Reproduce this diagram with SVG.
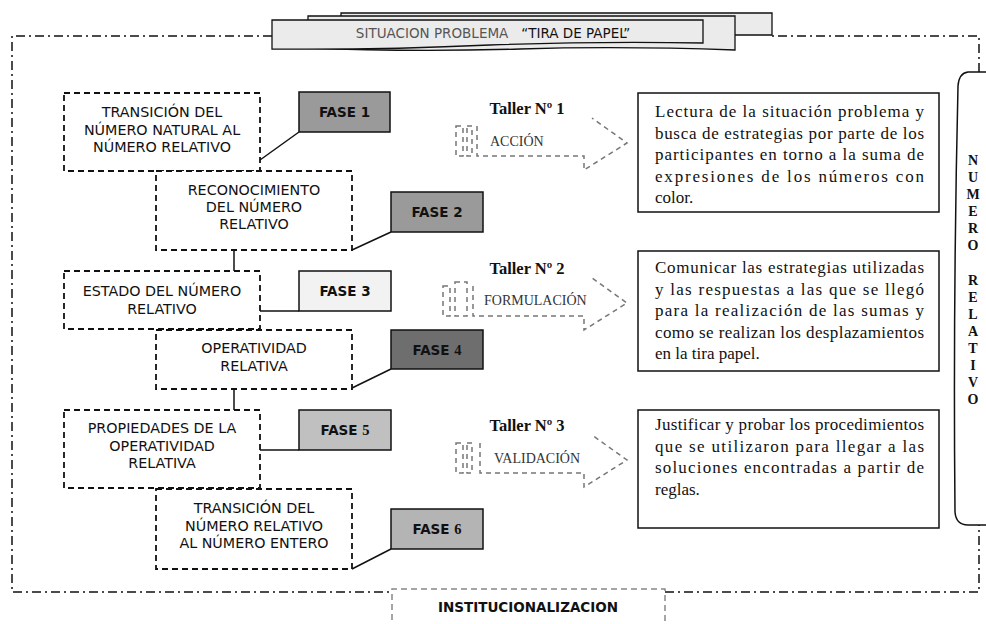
<svg xmlns="http://www.w3.org/2000/svg" width="986" height="624" viewBox="0 0 986 624">
<defs>
<style>
.dbox{fill:#fff;stroke:#111;stroke-width:1.8;stroke-dasharray:6 4}
.lt{font-family:"DejaVu Sans",Verdana,sans-serif;font-size:14.3px;fill:#111;text-anchor:middle}
.fase{stroke:#111;stroke-width:1.5}
.ft{font-family:"DejaVu Sans",Verdana,sans-serif;font-size:13.5px;font-weight:bold;fill:#111;text-anchor:middle}
.fn{font-family:"Liberation Serif","Times New Roman",serif;font-weight:bold;font-size:14.5px}
.con{stroke:#111;stroke-width:1.5;fill:none}
.tal{font-family:"Liberation Serif","Times New Roman",serif;font-size:16.5px;font-weight:bold;fill:#111;text-anchor:middle}
.arr{fill:none;stroke:#777;stroke-width:1.5;stroke-dasharray:5 4}
.al{font-family:"Liberation Serif","Times New Roman",serif;font-size:14px;fill:#333}
.rbox{fill:#fff;stroke:#111;stroke-width:1.5}
.rt{font-family:"Liberation Serif","Times New Roman",serif;font-size:17px;fill:#111}
.vl{font-family:"Liberation Serif","Times New Roman",serif;font-size:14px;font-weight:bold;fill:#111;text-anchor:middle}
.tab{fill:#ebebeb;stroke:#111;stroke-width:1.3}
</style>
</defs>
<rect width="986" height="624" fill="#fff"/>

<!-- outer dash-dot frame -->
<g id="frame" fill="none" stroke="#111" stroke-width="1.5" stroke-dasharray="9 4 2 4">
<path d="M272,36 H12 V592 H392"/>
<path d="M665,592 H979 V525"/>
<path d="M979,72 V36 H772"/>
</g>

<!-- title tabs -->
<g id="title">
<path class="tab" d="M341,13 H772 V35 H341 Z"/>
<path class="tab" d="M308,16 H735 V50 Q620,46 520,49 Q410,52 308,48 Z"/>
<path class="tab" d="M272,20 H703 V43 Q600,41 490,45 Q380,50 272,49 Z"/>
<text x="493" y="38" font-family="DejaVu Sans,Verdana,sans-serif" font-size="13.5" text-anchor="middle"><tspan fill="#555">SITUACION PROBLEMA</tspan><tspan fill="#111" xml:space="preserve">   “TIRA DE PAPEL”</tspan></text>
</g>

<!-- connectors -->
<g id="connectors">
<path class="con" d="M260,160 L299,132"/>
<path class="con" d="M352,250 L391,232"/>
<path class="con" d="M234,250 V271"/>
<path class="con" d="M260,311 H299"/>
<path class="con" d="M352,388 L391,369"/>
<path class="con" d="M234,389 V410"/>
<path class="con" d="M260,450 H299"/>
<path class="con" d="M352,569 L391,549"/>
</g>

<!-- left dashed boxes -->
<g id="box1"><rect class="dbox" x="64" y="93" width="196" height="78"/>
<text class="lt"><tspan x="162" y="117">TRANSICIÓN DEL</tspan><tspan x="162" y="135">NÚMERO NATURAL AL</tspan><tspan x="162" y="152">NÚMERO RELATIVO</tspan></text></g>
<g id="box2"><rect class="dbox" x="156" y="171" width="196" height="79"/>
<text class="lt"><tspan x="254" y="195">RECONOCIMIENTO</tspan><tspan x="254" y="212">DEL NÚMERO</tspan><tspan x="254" y="229">RELATIVO</tspan></text></g>
<g id="box3"><rect class="dbox" x="64" y="271" width="196" height="58"/>
<text class="lt"><tspan x="162" y="296">ESTADO DEL NÚMERO</tspan><tspan x="162" y="314">RELATIVO</tspan></text></g>
<g id="box4"><rect class="dbox" x="156" y="330" width="196" height="59"/>
<text class="lt"><tspan x="254" y="353">OPERATIVIDAD</tspan><tspan x="254" y="371">RELATIVA</tspan></text></g>
<g id="box5"><rect class="dbox" x="64" y="410" width="196" height="78"/>
<text class="lt"><tspan x="162" y="433">PROPIEDADES DE LA</tspan><tspan x="162" y="451">OPERATIVIDAD</tspan><tspan x="162" y="468">RELATIVA</tspan></text></g>
<g id="box6"><rect class="dbox" x="156" y="489" width="196" height="80"/>
<text class="lt"><tspan x="254" y="513">TRANSICIÓN DEL</tspan><tspan x="254" y="531">NÚMERO RELATIVO</tspan><tspan x="254" y="548">AL NÚMERO ENTERO</tspan></text></g>

<!-- fase boxes -->
<g id="fase1"><rect class="fase" x="299" y="92" width="91" height="40" fill="#9a9a9a"/><text class="ft" x="344.5" y="117">FASE 1</text></g>
<g id="fase2"><rect class="fase" x="391" y="192" width="92" height="40" fill="#9a9a9a"/><text class="ft" x="437" y="217">FASE 2</text></g>
<g id="fase3"><rect class="fase" x="299" y="271" width="92" height="40" fill="#f2f2f2"/><text class="ft" x="345" y="296">FASE 3</text></g>
<g id="fase4"><rect class="fase" x="391" y="330" width="92" height="39" fill="#6e6e6e"/><text class="ft" x="437" y="355">FASE <tspan class="fn">4</tspan></text></g>
<g id="fase5"><rect class="fase" x="299" y="410" width="92" height="40" fill="#c0c0c0"/><text class="ft" x="345" y="435">FASE <tspan class="fn">5</tspan></text></g>
<g id="fase6"><rect class="fase" x="391" y="509" width="92" height="40" fill="#b4b4b4"/><text class="ft" x="437" y="534">FASE <tspan class="fn">6</tspan></text></g>

<!-- talleres -->
<g id="taller1">
<text class="tal" x="527" y="114">Taller Nº 1</text>
<rect class="arr" x="456" y="126" width="7" height="30"/>
<rect class="arr" x="467" y="126" width="5" height="30"/>
<path class="arr" d="M477,126 V156 H584 V170 L627,143 L592,118"/>
<text class="al" x="490" y="146">ACCIÓN</text>
</g>
<g id="taller2">
<text class="tal" x="527" y="274">Taller Nº 2</text>
<rect class="arr" x="443" y="286" width="7" height="30"/>
<rect class="arr" x="455" y="282" width="12" height="34"/>
<path class="arr" d="M473,286 V316 H584 V330 L627,303 L592,278"/>
<text class="al" x="484" y="305">FORMULACIÓN</text>
</g>
<g id="taller3">
<text class="tal" x="527" y="431">Taller Nº 3</text>
<rect class="arr" x="456" y="443" width="7" height="30"/>
<rect class="arr" x="467" y="443" width="5" height="30"/>
<path class="arr" d="M480,443 V473 H584 V487 L627,460 L592,435"/>
<text class="al" x="494" y="463">VALIDACIÓN</text>
</g>

<!-- right description boxes -->
<g id="desc1"><rect class="rbox" x="638" y="93" width="301" height="119"/>
<text class="rt"><tspan x="655" y="117" textLength="269" lengthAdjust="spacing">Lectura de la situación problema y</tspan><tspan x="655" y="138.5" textLength="269" lengthAdjust="spacing">busca de estrategias por parte de los</tspan><tspan x="655" y="160" textLength="269" lengthAdjust="spacing">participantes en torno a la suma de</tspan><tspan x="655" y="181.5" textLength="269" lengthAdjust="spacing">expresiones de los números con</tspan><tspan x="655" y="203">color.</tspan></text></g>
<g id="desc2"><rect class="rbox" x="638" y="251" width="301" height="120"/>
<text class="rt"><tspan x="655" y="273" textLength="269" lengthAdjust="spacing">Comunicar las estrategias utilizadas</tspan><tspan x="655" y="294.5" textLength="269" lengthAdjust="spacing">y las respuestas a las que se llegó</tspan><tspan x="655" y="316" textLength="269" lengthAdjust="spacing">para la realización de las sumas y</tspan><tspan x="655" y="337.5" textLength="269" lengthAdjust="spacing">como se realizan los desplazamientos</tspan><tspan x="655" y="359">en la tira papel.</tspan></text></g>
<g id="desc3"><rect class="rbox" x="638" y="410" width="301" height="118"/>
<text class="rt"><tspan x="655" y="430" textLength="269" lengthAdjust="spacing">Justificar y probar los procedimientos</tspan><tspan x="655" y="451.5" textLength="269" lengthAdjust="spacing">que se utilizaron para llegar a las</tspan><tspan x="655" y="473" textLength="269" lengthAdjust="spacing">soluciones encontradas a partir de</tspan><tspan x="655" y="494.5">reglas.</tspan></text></g>

<!-- right vertical label -->
<g id="numero-relativo">
<path d="M990,72 H968 Q959,73 958,86 Q953,300 955,512 Q956,525 968,525 H990" fill="#fff" stroke="#111" stroke-width="1.5"/>
<text class="vl"><tspan x="973" y="165">N</tspan><tspan x="973" y="182">U</tspan><tspan x="973" y="199">M</tspan><tspan x="973" y="216">E</tspan><tspan x="973" y="233">R</tspan><tspan x="973" y="250">O</tspan><tspan x="973" y="285">R</tspan><tspan x="973" y="302">E</tspan><tspan x="973" y="319">L</tspan><tspan x="973" y="336">A</tspan><tspan x="973" y="353">T</tspan><tspan x="973" y="370">I</tspan><tspan x="973" y="387">V</tspan><tspan x="973" y="404">O</tspan></text>
</g>

<!-- institucionalizacion -->
<g id="institucionalizacion">
<path d="M392,630 V589 H665 V630" fill="none" stroke="#888" stroke-width="1.5" stroke-dasharray="6 4"/>
<text x="528" y="612" font-family="DejaVu Sans,Verdana,sans-serif" font-size="13.5" font-weight="bold" fill="#111" text-anchor="middle">INSTITUCIONALIZACION</text>
</g>
</svg>
